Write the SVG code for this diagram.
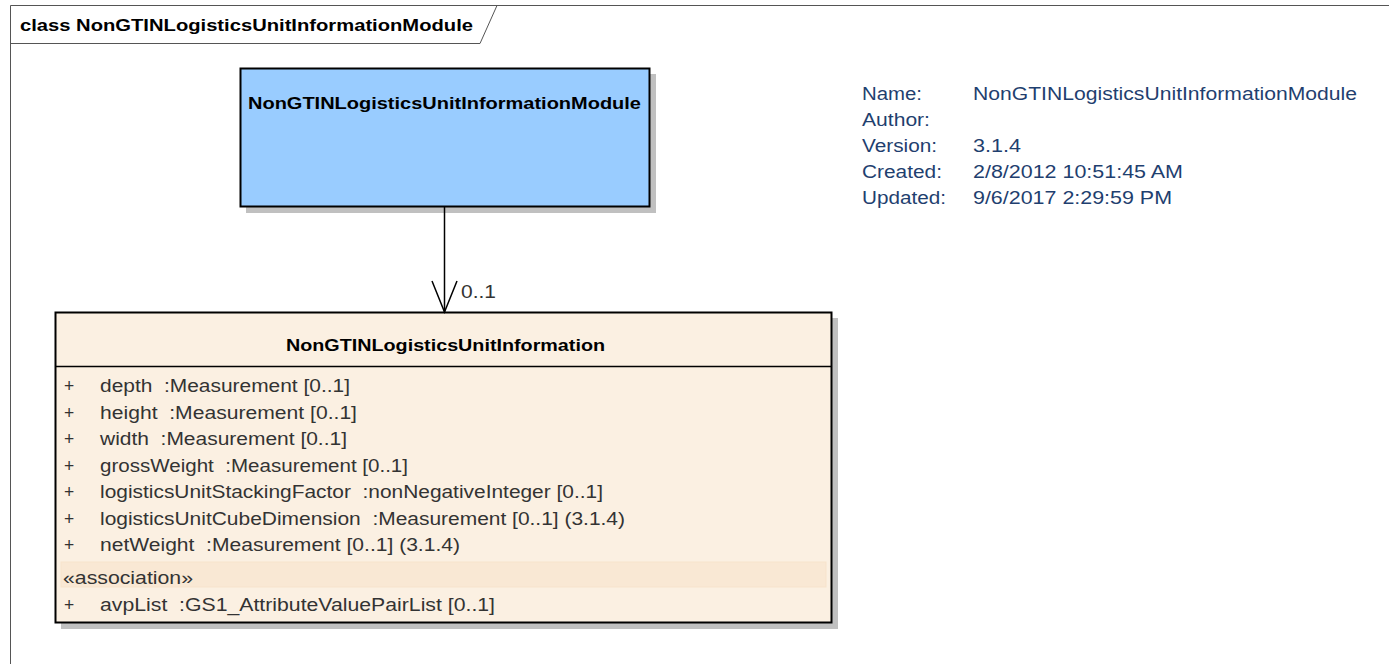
<svg xmlns="http://www.w3.org/2000/svg" width="1389" height="664" viewBox="0 0 1389 664">
<style>
text{font-family:"Liberation Sans",Arial,sans-serif;font-size:17.5px;fill:#000;white-space:pre}
.b{font-weight:bold;font-size:16.5px}
.a{fill:#333}
.i{fill:#1f3f6f}
.sh{fill:#c0c0c0}
</style>
<rect width="1389" height="664" fill="#fff"/>
<g id="frame">
<path d="M10.5,664 V5.5 H1389" fill="none" stroke="#555" stroke-width="1"/>
<path d="M10.5,43.5 H480 L497,5.5" fill="none" stroke="#555" stroke-width="1"/>
<text class="b" x="20" y="31" textLength="453" lengthAdjust="spacingAndGlyphs">class NonGTINLogisticsUnitInformationModule</text>
</g>
<g id="module">
<rect class="sh" x="246" y="74" width="410" height="139"/>
<rect x="240.5" y="68.5" width="409" height="138" fill="#99ccff" stroke="#000" stroke-width="2"/>
<text class="b" x="248" y="109" textLength="393" lengthAdjust="spacingAndGlyphs">NonGTINLogisticsUnitInformationModule</text>
</g>
<g id="info">
<text class="i" x="862" y="100" textLength="60" lengthAdjust="spacingAndGlyphs">Name:</text>
<text class="i" x="973" y="100" textLength="384" lengthAdjust="spacingAndGlyphs">NonGTINLogisticsUnitInformationModule</text>
<text class="i" x="862" y="126" textLength="68" lengthAdjust="spacingAndGlyphs">Author:</text>
<text class="i" x="862" y="152" textLength="75" lengthAdjust="spacingAndGlyphs">Version:</text>
<text class="i" x="973" y="152" textLength="48" lengthAdjust="spacingAndGlyphs">3.1.4</text>
<text class="i" x="862" y="178" textLength="80" lengthAdjust="spacingAndGlyphs">Created:</text>
<text class="i" x="973" y="178" textLength="210" lengthAdjust="spacingAndGlyphs">2/8/2012 10:51:45 AM</text>
<text class="i" x="862" y="204" textLength="84" lengthAdjust="spacingAndGlyphs">Updated:</text>
<text class="i" x="973" y="204" textLength="199" lengthAdjust="spacingAndGlyphs">9/6/2017 2:29:59 PM</text>
</g>
<g id="info-class">
<rect class="sh" x="61" y="318" width="777" height="311"/>
<rect x="55.5" y="312.5" width="776" height="310" fill="#fbf0e2" stroke="#000" stroke-width="2"/>
<line x1="55" y1="366.5" x2="832" y2="366.5" stroke="#000" stroke-width="1.5"/>
<text class="b" x="286" y="351" textLength="319" lengthAdjust="spacingAndGlyphs">NonGTINLogisticsUnitInformation</text>
<text class="a" x="64" y="392">+</text><text class="a" x="100" y="392" textLength="250" lengthAdjust="spacingAndGlyphs" xml:space="preserve">depth  :Measurement [0..1]</text>
<text class="a" x="64" y="419">+</text><text class="a" x="100" y="419" textLength="257" lengthAdjust="spacingAndGlyphs" xml:space="preserve">height  :Measurement [0..1]</text>
<text class="a" x="64" y="445">+</text><text class="a" x="100" y="445" textLength="247" lengthAdjust="spacingAndGlyphs" xml:space="preserve">width  :Measurement [0..1]</text>
<text class="a" x="64" y="472">+</text><text class="a" x="100" y="472" textLength="308" lengthAdjust="spacingAndGlyphs" xml:space="preserve">grossWeight  :Measurement [0..1]</text>
<text class="a" x="64" y="498">+</text><text class="a" x="100" y="498" textLength="503" lengthAdjust="spacingAndGlyphs" xml:space="preserve">logisticsUnitStackingFactor  :nonNegativeInteger [0..1]</text>
<text class="a" x="64" y="525">+</text><text class="a" x="100" y="525" textLength="525" lengthAdjust="spacingAndGlyphs" xml:space="preserve">logisticsUnitCubeDimension  :Measurement [0..1] (3.1.4)</text>
<text class="a" x="64" y="551">+</text><text class="a" x="100" y="551" textLength="360" lengthAdjust="spacingAndGlyphs" xml:space="preserve">netWeight  :Measurement [0..1] (3.1.4)</text>
<rect x="61" y="562" width="765" height="25" fill="#f9e8d4" stroke="#f7e3cc" stroke-width="1"/>
<text class="a" x="63" y="584" textLength="130" lengthAdjust="spacingAndGlyphs">«association»</text>
<text class="a" x="64" y="611">+</text><text class="a" x="100" y="611" textLength="395" lengthAdjust="spacingAndGlyphs" xml:space="preserve">avpList  :GS1_AttributeValuePairList [0..1]</text>
</g>
<g id="connectors">
<line x1="444.5" y1="207" x2="444.5" y2="312" stroke="#000" stroke-width="1.5"/>
<polyline points="432,281 444.5,312 457,281" fill="none" stroke="#000" stroke-width="1.5"/>
<text x="461" y="298" class="a" textLength="35" lengthAdjust="spacingAndGlyphs">0..1</text>
</g>
</svg>
